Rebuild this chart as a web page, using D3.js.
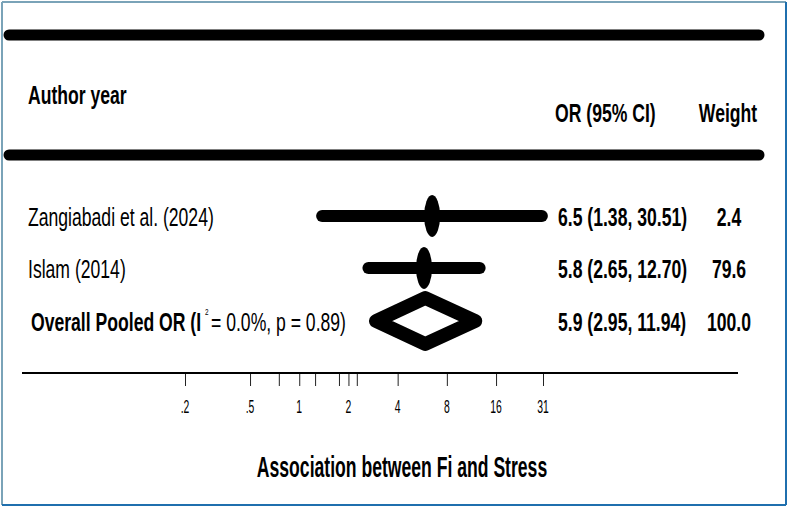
<!DOCTYPE html>
<html lang="en">
<head>
    <meta charset="UTF-8">
    <title>Forest plot - Fi and Stress</title>
    <script src="https://d3js.org/d3.v7.min.js"></script>
    <style>
        body {
            margin: 0;
            background-color: #fff;
        }
        svg text {
            font-family: "Liberation Sans", Arial, sans-serif;
            fill: #000;
        }
    </style>
</head>
<body>
    <svg id="forest" width="790" height="508"></svg>
    <script>
// Study rows
const studies = ["Zangiabadi et al. (2024)", "Islam (2014)"];
const orValues = [6.5, 5.8];
const ciLower = [1.38, 2.65];
const ciUpper = [30.51, 12.70];
const weights = ["2.4", "79.6"];

// Pooled estimate
const pooledOR = 5.9;
const pooledLower = 2.95;
const pooledUpper = 11.94;
const pooledWeight = "100.0";
const i2Text = "0.0%";
const pValue = "0.89";

// Axis ticks (unlabelled ones get an empty string)
const tickValues = [0.2, 0.5, 0.75, 1, 1.25, 1.75, 2, 2.25, 4, 8, 16, 31];
const tickLabels = [".2", ".5", "", "1", "", "", "2", "", "4", "8", "16", "31"];

const svg = d3.select("#forest");

// the picture is stretched vertically and uses a narrow font, so texts get squeezed
const SX = 0.8, SY = 1.2;

function label(x, y, str, opts = {}) {
    const size = opts.size || 22;
    return svg.append("text")
        .attr("transform", `translate(${x},${y}) scale(${opts.sx || SX},${opts.sy || SY})`)
        .attr("text-anchor", opts.anchor || "start")
        .style("font-size", size + "px")
        .style("font-weight", opts.bold ? "bold" : "normal")
        .text(str);
}

// frame
svg.append("line").attr("x1", 2).attr("y1", 2).attr("x2", 786).attr("y2", 2)
    .attr("stroke", "#7aa3b8").attr("stroke-width", 2);
svg.append("line").attr("x1", 2).attr("y1", 2).attr("x2", 2).attr("y2", 505)
    .attr("stroke", "#7aa3b8").attr("stroke-width", 2);
svg.append("line").attr("x1", 786).attr("y1", 2).attr("x2", 786).attr("y2", 505)
    .attr("stroke", "#1f6fae").attr("stroke-width", 2);
svg.append("line").attr("x1", 2).attr("y1", 505).attr("x2", 786).attr("y2", 505)
    .attr("stroke", "#1f6fae").attr("stroke-width", 2);

// thick header rules
[35, 155].forEach(y => {
    svg.append("line")
        .attr("x1", 9).attr("x2", 759)
        .attr("y1", y).attr("y2", y)
        .attr("stroke", "#000")
        .attr("stroke-width", 11)
        .attr("stroke-linecap", "round");
});

// headers
label(28, 104, "Author year", { bold: true });
label(555, 122, "OR (95% CI)", { bold: true });
label(728, 122, "Weight", { bold: true, anchor: "middle" });

// log scale for odds ratios
const x = d3.scaleLog().base(2)
    .domain([0.2, 31])
    .range([185, 543]);

const rowY = [216, 268];
const pooledY = 321;
const capHalf = 9.5;

// CI lines and point markers
const rows = svg.append("g");
rows.selectAll("line.ci")
    .data(studies)
    .join("line")
    .attr("class", "ci")
    .attr("x1", (d, i) => x(ciLower[i]))
    .attr("x2", (d, i) => x(ciUpper[i]))
    .attr("y1", (d, i) => rowY[i])
    .attr("y2", (d, i) => rowY[i])
    .attr("stroke", "#000")
    .attr("stroke-width", 12)
    .attr("stroke-linecap", "round");

rows.selectAll("ellipse")
    .data(studies)
    .join("ellipse")
    .attr("cx", (d, i) => x(orValues[i]))
    .attr("cy", (d, i) => rowY[i])
    .attr("rx", 8)
    .attr("ry", 21)
    .attr("fill", "#000");

// study labels and numbers
studies.forEach((s, i) => {
    label(28, rowY[i] + capHalf, s);
    label(558, rowY[i] + capHalf,
        `${orValues[i].toFixed(1)} (${ciLower[i].toFixed(2)}, ${ciUpper[i].toFixed(2)})`, { bold: true });
    label(729, rowY[i] + capHalf, weights[i], { bold: true, anchor: "middle" });
});

// pooled diamond
const dh = 23;
svg.append("path")
    .attr("d", `M${x(pooledLower)},${pooledY} L${x(pooledOR)},${pooledY - dh} L${x(pooledUpper)},${pooledY} L${x(pooledOR)},${pooledY + dh} Z`)
    .attr("fill", "#fff")
    .attr("stroke", "#000")
    .attr("stroke-width", 14)
    .attr("stroke-linejoin", "round");

const pooledText = label(31, pooledY + capHalf, "");
pooledText.append("tspan").style("font-weight", "bold").text("Overall Pooled OR (I");
pooledText.append("tspan").attr("dx", 5).attr("dy", -13).style("font-size", "8px").text("2");
pooledText.append("tspan").attr("dx", 3).attr("dy", 13).text(`= ${i2Text}, p = ${pValue})`);

label(558, pooledY + capHalf,
    `${pooledOR.toFixed(1)} (${pooledLower.toFixed(2)}, ${pooledUpper.toFixed(2)})`, { bold: true });
label(729, pooledY + capHalf, pooledWeight, { bold: true, anchor: "middle" });

// x axis
svg.append("line")
    .attr("x1", 22).attr("x2", 738)
    .attr("y1", 373).attr("y2", 373)
    .attr("stroke", "#000")
    .attr("stroke-width", 2);

const axis = svg.append("g")
    .attr("transform", "translate(0,374)")
    .call(d3.axisBottom(x)
        .tickValues(tickValues)
        .tickFormat((d, i) => tickLabels[i])
        .tickSize(12)
        .tickPadding(0));
axis.select(".domain").remove();
axis.selectAll(".tick line").attr("stroke", "#222").attr("stroke-width", 1);
axis.selectAll(".tick text").remove();

tickValues.forEach((v, i) => {
    if (tickLabels[i]) {
        label(x(v), 413, tickLabels[i], { size: 13, anchor: "middle", sy: 1.35 });
    }
});

label(402, 477, "Association between Fi and Stress", { bold: true, anchor: "middle", sy: 1.3 });
    </script>
</body>
</html>
